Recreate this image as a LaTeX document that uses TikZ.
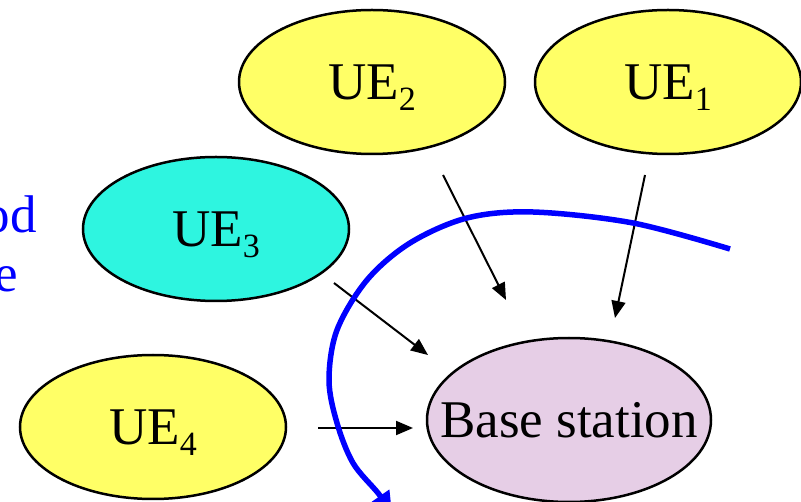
\documentclass[tikz,border=0pt]{standalone}
\usepackage{fontspec}
\setmainfont{Liberation Serif}
\usetikzlibrary{shapes.geometric,arrows.meta}
\definecolor{ueyellow}{RGB}{255,255,102}
\definecolor{uecyan}{RGB}{46,245,224}
\definecolor{bslilac}{RGB}{230,206,230}
\newcommand\uesub[1]{\raisebox{-11pt}{\fontsize{34}{34}\selectfont #1}}
\tikzset{
  ue/.style={ellipse, draw=black, line width=2.5pt, inner sep=0pt,
             minimum width=266pt, minimum height=144pt},
  bs/.style={ellipse, draw=black, line width=2.5pt, fill=bslilac, inner sep=0pt,
             minimum width=284pt, minimum height=164pt},
  uelabel/.style={anchor=base, inner sep=0pt, font=\fontsize{53}{60}\selectfont},
  link/.style={line width=2pt, -{Triangle[length=17pt,width=14pt]}},
  border/.style={blue, line width=5.5pt, -{Triangle[length=20pt,width=20pt]}},
  sidetext/.style={anchor=base east, inner sep=0pt, text=blue,
                   font=\fontsize{53}{60}\selectfont}
}
\begin{document}
\begin{tikzpicture}[x=1pt,y=-1pt]
  \useasboundingbox (0,0) rectangle (801,502);

  % terminals and base station
  \node[ue, fill=ueyellow] (ue2) at (372,82) {};
  \node[ue, fill=ueyellow] (ue1) at (668,82) {};
  \node[ue, fill=uecyan]   (ue3) at (216,229) {};
  \node[ue, fill=ueyellow] (ue4) at (153,427) {};
  \node[bs] (bs) at (569,420) {};

  \node[uelabel] (t2) at ([yshift=-17.5pt]ue2.center) {UE\uesub{2}};
  \node[uelabel] (t1) at ([yshift=-17.5pt]ue1.center) {UE\uesub{1}};
  \node[uelabel] (t3) at ([yshift=-17.5pt]ue3.center) {UE\uesub{3}};
  \node[uelabel] (t4) at ([yshift=-17.5pt]ue4.center) {UE\uesub{4}};
  \node[uelabel] (tb) at ([yshift=-17.5pt]bs.center) {Base station};

  % partly visible side text
  \node[sidetext] (s1) at (37,233) {od};
  \node[sidetext] (s2) at (18,292) {e};

  % uplink arrows
  \coordinate (a2s) at (443,175);  \coordinate (a2e) at (506,300);
  \coordinate (a1s) at (645,175);  \coordinate (a1e) at (615,318);
  \coordinate (a3s) at (334,283);  \coordinate (a3e) at (428,355);
  \coordinate (a4s) at (318,428);  \coordinate (a4e) at (413,428);
  \draw[link] (a2s) -- (a2e);
  \draw[link] (a1s) -- (a1e);
  \draw[link] (a3s) -- (a3e);
  \draw[link] (a4s) -- (a4e);

  % coverage boundary
  \draw[border] plot[smooth, tension=0.55] coordinates {
    (730,249) (633,223) (533,212) (467,218) (410,243) (367,280)
    (337,330) (329,380) (337,423) (353,463) (378,493) (392,512)};
\end{tikzpicture}
\end{document}
